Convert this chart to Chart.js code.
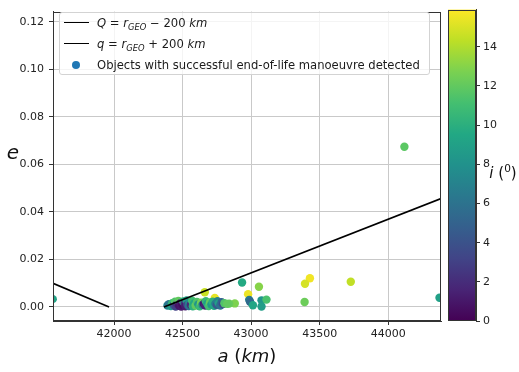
<!DOCTYPE html>
<html>
<head>
<meta charset="utf-8">
<script src="https://cdn.jsdelivr.net/npm/chart.js@4.4.0/dist/chart.umd.min.js"></script>
<style>
  html, body { margin:0; padding:0; background:#fff; }
  #wrap { position:relative; width:519px; height:372px; overflow:hidden; font-family:'DejaVu Sans', sans-serif; color:#222; }
  canvas { position:absolute; }
  .lbl { position:absolute; transform:translate(-50%,-50%); white-space:nowrap; color:#111; }
  .it { font-style:italic; }
  #legend { position:absolute; left:59px; top:12px; width:371px; height:63px; background:rgba(255,255,255,0.8);
            border:1px solid #d3d3d3; border-radius:3px; box-sizing:border-box; font-size:11.6px; color:#1a1a1a; }
  .row { position:absolute; left:0; height:16px; }
  .sw { position:absolute; left:4px; width:25px; height:0; border-top:1.6px solid #000; }
  .dot { position:absolute; left:12px; width:8px; height:8px; border-radius:50%; background:#1f77b4; }
  .tx { position:absolute; left:37px; white-space:nowrap; transform:translateY(-50%); }
  sub { font-size:0.72em; vertical-align:-0.35em; line-height:0; }
  sup { font-size:0.7em; vertical-align:0.55em; line-height:0; }
</style>
</head>
<body>
<div id="wrap">
  <canvas id="main" width="519" height="372" style="left:0;top:0;width:519px;height:372px"></canvas>
  <canvas id="cbar" width="79" height="372" style="left:440px;top:0;width:79px;height:372px"></canvas>
  <div id="legend"></div>
  <div class="lbl" style="left:247px;top:355px;font-size:18px;"><span class="it">a</span> (<span class="it">km</span>)</div>
  <div class="lbl" style="left:13px;top:152px;font-size:20px;"><span class="it">e</span></div>
  <div class="lbl" style="left:503px;top:173px;font-size:15px;"><span class="it">i</span> (<sup>0</sup>)</div>
</div>
<script>
// ---------- data ----------
const semiMajorAxis = [
  41553, 44118, 44374, 43429, 43393, 43727, 43390, 42934, 43057, 42978,
  42986, 42992, 43013, 43076, 43076, 43112, 42881, 42840, 42662, 42735,
  42390, 42400, 42415, 42425, 42435, 42445, 42450, 42460, 42470, 42475,
  42485, 42490, 42500, 42505, 42515, 42520, 42530, 42535, 42545, 42550,
  42560, 42570, 42575, 42585, 42595, 42605, 42615, 42625, 42635, 42645,
  42655, 42665, 42670, 42680, 42690, 42700, 42710, 42720, 42730, 42740,
  42750, 42755, 42765, 42775, 42785, 42795, 42805, 42825
];
const eccentricity = [
  0.0033, 0.0674, 0.0039, 0.0121, 0.0098, 0.0106, 0.0021, 0.0103, 0.0085, 0.0054,
  0.0030, 0.0022, 0.0007, 0.0028, 0.0002, 0.0031, 0.0015, 0.0014, 0.0062, 0.0038,
  0.0006, 0.0012, 0.0004, 0.0016, 0.0008, 0.0022, 0.0002, 0.0013, 0.0025, 0.0006,
  0.0016, 0.0002, 0.0009, 0.0023, 0.0014, 0.0003, 0.0027, 0.0010, 0.0004, 0.0019,
  0.0009, 0.0026, 0.0003, 0.0015, 0.0006, 0.0021, 0.0011, 0.0003, 0.0018, 0.0009,
  0.0013, 0.0006, 0.0024, 0.0014, 0.0004, 0.0019, 0.0010, 0.0022, 0.0005, 0.0014,
  0.0008, 0.0024, 0.0015, 0.0006, 0.0020, 0.0012, 0.0016, 0.0013
];
const inclination = [
  9.2, 11.8, 9.0, 15.6, 14.9, 14.4, 12.3, 9.6, 13.0, 15.5,
  6.5, 5.5, 9.3, 8.3, 8.8, 11.3, 12.8, 12.2, 14.6, 15.3,
  7.0, 6.0, 8.5, 10.5, 4.5, 11.5, 3.0, 2.0, 12.0, 0.8,
  1.5, 1.0, 0.5, 10.0, 2.5, 1.2, 9.0, 3.5, 6.0, 7.5,
  2.0, 11.0, 10.0, 9.5, 12.0, 11.5, 8.0, 10.5, 12.5, 7.0,
  1.0, 1.5, 10.5, 9.0, 11.0, 12.0, 8.5, 10.0, 9.5, 6.5,
  4.5, 7.0, 9.0, 6.0, 5.0, 3.5, 11.5, 12.0
];
const apogeeLineA = [41555, 41964];
const apogeeLineE = [0.00996, 0.0];
const perigeeLineA = [42364, 44385];
const perigeeLineE = [0.0, 0.0456];
const xTickValues = [42000, 42500, 43000, 43500, 44000];
const yTickValues = [0.00, 0.02, 0.04, 0.06, 0.08, 0.10, 0.12];
const colorbarTicks = [0, 2, 4, 6, 8, 10, 12, 14];
const seriesNames = [
  '<span class="it">Q</span> = <span class="it">r<sub>GEO</sub></span> &minus; 200 <span class="it">km</span>',
  '<span class="it">q</span> = <span class="it">r<sub>GEO</sub></span> + 200 <span class="it">km</span>',
  'Objects with successful end-of-life manoeuvre detected'
];
const xRange = [41555, 44385];
const yRange = [-0.0059, 0.1243];
const colorRange = [0, 15.9];

// ---------- viridis ----------
const VIR = ['#440154','#482475','#414487','#355f8d','#2a788e','#21918c','#22a884','#44bf70','#7ad151','#bddf26','#fde725'];
function hex2rgb(h){ return [parseInt(h.slice(1,3),16),parseInt(h.slice(3,5),16),parseInt(h.slice(5,7),16)]; }
function viridis(t){
  t = Math.max(0, Math.min(1, t));
  const p = t * (VIR.length - 1), k = Math.min(Math.floor(p), VIR.length - 2), f = p - k;
  const a = hex2rgb(VIR[k]), b = hex2rgb(VIR[k+1]);
  return 'rgb(' + a.map((v,j)=>Math.round(v + (b[j]-v)*f)).join(',') + ')';
}

// ---------- legend (HTML) ----------
const leg = document.getElementById('legend');
const rowY = [10, 31, 52];
seriesNames.forEach((n, k) => {
  const r = document.createElement('div');
  r.className = 'row';
  r.style.top = rowY[k] + 'px';
  r.innerHTML = (k < 2 ? '<div class="sw" style="top:-1px"></div>' : '<div class="dot" style="top:-4px"></div>') +
                '<div class="tx" style="top:0">' + n + '</div>';
  leg.appendChild(r);
});

// ---------- plugins ----------
const frame = {
  id: 'frame',
  afterDraw(chart, args, opts) {
    const {ctx, chartArea: a} = chart;
    ctx.save();
    ctx.strokeStyle = opts.color || '#333';
    ctx.lineWidth = 1;
    ctx.strokeRect(Math.round(a.left) + 0.5, Math.round(a.top) + 0.5, Math.round(a.right - a.left) - 1, Math.round(a.bottom - a.top) - 1);
    ctx.restore();
  }
};

const tickFont = { family: "'DejaVu Sans', sans-serif", size: 11 };

// ---------- main chart ----------
new Chart(document.getElementById('main'), {
  data: {
    datasets: [
      { type: 'line', data: apogeeLineA.map((a, k) => ({x: a, y: apogeeLineE[k]})),
        borderColor: '#000', borderWidth: 1.6, pointRadius: 0, fill: false, clip: 0 },
      { type: 'line', data: perigeeLineA.map((a, k) => ({x: a, y: perigeeLineE[k]})),
        borderColor: '#000', borderWidth: 1.6, pointRadius: 0, fill: false, clip: 0 },
      { type: 'scatter', data: semiMajorAxis.map((a, k) => ({x: a, y: eccentricity[k]})),
        pointRadius: 4.2, pointBorderWidth: 0, pointHoverRadius: 4.2,
        pointBackgroundColor: inclination.map(v => viridis((v - colorRange[0]) / (colorRange[1] - colorRange[0]))),
        clip: 0 }
    ]
  },
  options: {
    responsive: false, animation: false, devicePixelRatio: 1,
    layout: { padding: { left: 0, top: 6, right: 78, bottom: 0 } },
    plugins: { legend: { display: false }, tooltip: { enabled: false }, frame: { color: '#333' } },
    scales: {
      x: {
        type: 'linear', min: xRange[0], max: xRange[1],
        afterFit: s => { s.height = 51; },
        afterBuildTicks: s => { s.ticks = xTickValues.map(v => ({ value: v })); },
        ticks: { font: tickFont, color: '#222', padding: 3, maxRotation: 0, callback: v => String(v) },
        grid: { color: '#c9c9c9', lineWidth: 1, tickLength: 4, tickColor: '#333', drawTicks: true },
        border: { display: true, color: '#333' }
      },
      y: {
        type: 'linear', min: yRange[0], max: yRange[1],
        afterFit: s => { s.width = 53; },
        afterBuildTicks: s => { s.ticks = yTickValues.map(v => ({ value: v })); },
        ticks: { font: tickFont, color: '#222', padding: 5, callback: v => Number(v).toFixed(2) },
        grid: { color: '#c9c9c9', lineWidth: 1, tickLength: 4, tickColor: '#333', drawTicks: true },
        border: { display: true, color: '#333' }
      }
    }
  },
  plugins: [frame]
});

// ---------- colorbar chart ----------
new Chart(document.getElementById('cbar'), {
  type: 'bar',
  data: {
    labels: ['i'],
    datasets: [{
      data: [colorRange],
      barPercentage: 1, categoryPercentage: 1, borderWidth: 0,
      backgroundColor: (c) => {
        const ch = c.chart, a = ch.chartArea;
        if (!a) return '#21918c';
        const g = ch.ctx.createLinearGradient(0, a.bottom, 0, a.top);
        VIR.forEach((col, k) => g.addColorStop(k / (VIR.length - 1), col));
        return g;
      }
    }]
  },
  options: {
    responsive: false, animation: false, devicePixelRatio: 1,
    layout: { padding: { left: 8, top: 6, right: 0, bottom: 51 } },
    plugins: { legend: { display: false }, tooltip: { enabled: false }, frame: { color: '#333' } },
    scales: {
      x: { display: false },
      y: {
        position: 'right', min: colorRange[0], max: colorRange[1],
        afterFit: s => { s.width = 43; },
        afterBuildTicks: s => { s.ticks = colorbarTicks.map(v => ({ value: v })); },
        ticks: { font: tickFont, color: '#222', padding: 3, callback: v => String(v) },
        grid: { drawOnChartArea: false, drawTicks: true, tickLength: 4, tickColor: '#333' },
        border: { display: true, color: '#333' }
      }
    }
  },
  plugins: [frame]
});
</script>
</body>
</html>
